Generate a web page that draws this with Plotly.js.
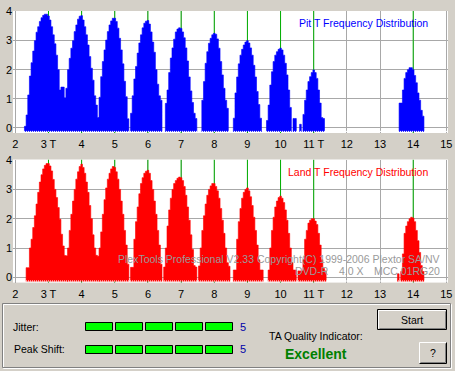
<!DOCTYPE html>
<html><head><meta charset="utf-8">
<script src="https://cdn.plot.ly/plotly-3.0.1.min.js"></script>
<style>html,body{margin:0;padding:0;background:#d4d0c8;overflow:hidden}#chart{width:455px;height:371px}</style>
</head><body><div id="chart"></div>
<script>
// ---- data ----
const tLengths = [3, 4, 5, 6, 7, 8, 9, 10, 11, 14];
const binWidth = 0.05;            // bin width in T
// first bin offset (in bins) of each peak, relative to its T centre
const pitStart  = [-14, -10, -9, -10, -9, -7, -8, -8, -8, -8];
const pit3  = [0.05,0.44,1.13,1.78,2.24,2.64,3.0,3.29,3.48,3.66,3.79,3.87,3.91,3.91,3.85,3.71,3.48,3.2,2.89,2.5,2.0,1.3,1.4,1.4];
const pit4  = [1.03,1.36,2.0,2.39,2.74,3.0,3.31,3.54,3.74,3.84,3.86,3.71,3.48,3.2,2.85,2.45,2.05,1.64,1.1,0.78,0.35];
const pit5  = [1.05,1.76,2.28,2.68,3.02,3.31,3.54,3.68,3.77,3.77,3.66,3.43,3.08,2.68,2.2,1.6,1.07,0.31];
const pit6  = [0.5,1.1,1.68,2.11,2.57,2.92,3.2,3.44,3.6,3.67,3.69,3.57,3.3,2.95,2.6,2.0,1.5,1.1,0.95];
const pit7  = [0.84,1.3,1.9,2.4,2.75,3.05,3.3,3.4,3.44,3.42,3.3,3.1,2.75,2.3,1.75,1.27,0.87,0.5,0.32];
const pit8  = [0.95,1.59,2.22,2.62,2.91,3.08,3.2,3.25,3.22,3.06,2.74,2.28,1.82,1.36,0.95,0.67];
const pit9  = [0.33,1.2,1.75,2.2,2.5,2.7,2.85,2.95,3.0,2.92,2.75,2.5,2.15,1.75,1.25,0.8,0.33];
const pit10 = [0.25,0.78,1.47,1.93,2.28,2.5,2.62,2.7,2.74,2.68,2.5,2.22,1.82,1.3,0.7,null,0.32,0.32];
const pit11 = [0.12,null,0.46,0.95,1.3,1.59,1.76,1.9,1.99,1.9,1.7,1.3,0.85,0.35,0.32];
const pit14 = [0.85,0.85,1.3,1.7,1.9,2.0,2.07,2.07,2.0,1.8,1.55,1.2,0.95,0.6,0.4];

const landStart = [-13, -8, -9, -10, -10, -9, -8, -7, -9, -9];
const land3  = [0.33,0.33,1.0,1.3,1.7,2.1,2.5,2.9,3.25,3.5,3.7,3.82,3.88,3.88,3.8,3.63,3.34,3.0,2.72,2.38,1.98,1.47,1.07,0.75,0.73];
const land4  = [1.0,1.6,2.15,2.6,3.0,3.35,3.6,3.78,3.86,3.75,3.55,3.25,2.9,2.45,2.0,1.45,1.0,0.75,0.72];
const land5  = [1.0,1.55,2.15,2.65,3.05,3.35,3.55,3.7,3.78,3.75,3.6,3.35,3.0,2.6,2.15,1.6,1.1,0.45];
const land6  = [0.34,0.34,1.3,1.9,2.4,2.85,3.2,3.4,3.55,3.62,3.65,3.55,3.3,3.0,2.6,2.15,1.6,1.1,0.45];
const land7  = [0.35,1.0,1.75,2.3,2.7,3.0,3.2,3.3,3.38,3.42,3.4,3.3,3.1,2.8,2.4,1.95,1.45,0.95,0.4,0.35];
const land8  = [0.39,1.0,1.6,2.1,2.5,2.8,3.0,3.12,3.2,3.2,3.1,2.95,2.7,2.35,1.95,1.5,1.0,0.5,0.38];
const land9  = [0.25,0.25,1.3,1.9,2.35,2.7,2.9,3.0,3.05,2.95,2.75,2.45,2.05,1.6,1.1,0.6,0.25,0.25];
const land10 = [0.25,1.0,1.6,2.05,2.4,2.6,2.72,2.77,2.7,2.55,2.3,1.95,1.5,1.0,0.5,0.25,0.25];
const land11 = [0.22,0.22,0.22,0.6,1.3,1.6,1.85,1.95,2.0,2.0,1.92,1.8,1.5,1.1,0.6,0.3,0.22];
const land14 = [0.12,null,0.2,0.8,1.5,1.75,1.9,2.0,2.05,2.02,1.9,1.6,1.25,0.85,0.4,0.2];

const xTickVals = [2,3,4,5,6,7,8,9,10,11,12,13,14,15];
const xTickText = ['2','3 T','4','5','6','7','8','9','10','11 T','12','13','14','15'];
const yTickVals = [0,1,2,3,4];
const jitterScore = 5;
const peakShiftScore = 5;
const scoreBoxes = 5;
const qualityText = 'Excellent';

// ---- build ----
const pitPeaks = [pit3,pit4,pit5,pit6,pit7,pit8,pit9,pit10,pit11,pit14];
const landPeaks = [land3,land4,land5,land6,land7,land8,land9,land10,land11,land14];
const BASE = -0.14;   // histogram columns are drawn from just below zero
// staircase outline of each run of bins, closed down to the baseline
function outline(peaks, starts){
  const xs=[], ys=[];
  peaks.forEach((arr,i)=>{
    let open=false, lastR=0;
    arr.forEach((v,j)=>{
      const c = tLengths[i] + (starts[i]+j)*binWidth, l = c-binWidth/2, r = c+binWidth/2;
      if(v===null){ if(open){ xs.push(lastR,null); ys.push(BASE,null); open=false; } return; }
      if(!open){ xs.push(l); ys.push(BASE); open=true; }
      xs.push(l, r); ys.push(v, v); lastR = r;
    });
    if(open){ xs.push(lastR,null); ys.push(BASE,null); }
  });
  return {xs, ys};
}
const P = outline(pitPeaks, pitStart), L = outline(landPeaks, landStart);
const FONT = 'Liberation Sans, Arial, sans-serif';
const GRID = '#a8a8a8', GREEN = '#00b000', FACE = '#d4d0c8';
const W = 455, H = 371;
const X = px => px / W, Y = py => 1 - py / H;

const traces = [
  {type:'scatter', mode:'lines', x:P.xs, y:P.ys, xaxis:'x', yaxis:'y', fill:'toself', fillcolor:'#0000ff',
   line:{color:'#0000ff', width:0.6}, connectgaps:false, hoverinfo:'skip'},
  {type:'scatter', mode:'lines', x:L.xs, y:L.ys, xaxis:'x2', yaxis:'y2', fill:'toself', fillcolor:'#ff0000',
   line:{color:'#ff0000', width:0.6}, connectgaps:false, hoverinfo:'skip'}
];

const shapes = [];
tLengths.forEach(t => {
  [['x','y'],['x2','y2']].forEach(([xr,yr]) => shapes.push({type:'line', xref:xr, yref:yr, x0:t, x1:t, y0:-0.18, y1:4.02,
    line:{color:GREEN, width:1}, layer:'between'}));
});
// dotted bottom edge of the columns
[['x','y'],['x2','y2']].forEach(([xr,yr]) => shapes.push({type:'line', xref:xr, yref:yr, x0:1.9, x1:15.1, y0:-0.125, y1:-0.125,
  line:{color:'#ffffff', width:1, dash:'1px,1px'}}));

function pline(x0,y0,x1,y1,color){ shapes.push({type:'line', xref:'paper', yref:'paper', x0:X(x0), y0:Y(y0), x1:X(x1), y1:Y(y1), line:{color, width:1}}); }
function prect(x0,y0,x1,y1,fill,lineColor){ shapes.push({type:'rect', xref:'paper', yref:'paper', x0:X(x0), y0:Y(y0), x1:X(x1), y1:Y(y1), fillcolor:fill, line:{color:lineColor||fill, width:lineColor?1:0}}); }

// etched frame of the lower panel
prect(3.5,304.5,451.5,368.5,'rgba(0,0,0,0)','#ffffff');
prect(2.5,303.5,450.5,367.5,'rgba(0,0,0,0)','#808080');
// score boxes
for(let i=0;i<scoreBoxes;i++){
  const x0 = 85.5 + 30*i, x1 = x0 + 27;
  prect(x0,322.5,x1,330.5, i<jitterScore ? '#00ff00' : FACE, '#000000');
  prect(x0,345.5,x1,353.5, i<peakShiftScore ? '#00ff00' : FACE, '#000000');
}
// Start button (default, black outer frame)
prect(377.5,309.5,446.5,329.5,FACE,'#000000');
pline(378.5,328.5,378.5,310.5,'#ffffff'); pline(378.5,310.5,445.5,310.5,'#ffffff');
pline(379.5,328.5,445.5,328.5,'#808080'); pline(445.5,328.5,445.5,311.5,'#808080');
// ? button
prect(419,342,447,364,FACE);
pline(419.5,363.5,419.5,342.5,'#ffffff'); pline(419.5,342.5,446.5,342.5,'#ffffff');
pline(419.5,363.5,446.5,363.5,'#000000'); pline(446.5,363.5,446.5,342.5,'#000000');
pline(420.5,362.5,445.5,362.5,'#808080'); pline(445.5,362.5,445.5,343.5,'#808080');

function ann(text, px, py, opts){
  return Object.assign({text, xref:'paper', yref:'paper', x:X(px), y:Y(py), showarrow:false,
    xanchor:'left', yanchor:'middle', font:{family:FONT, size:10.5, color:'#000000'}}, opts||{});
}
const annotations = [
  ann('Pit T Frequency Distribution', 430, 23, {xanchor:'right', font:{family:FONT,size:10.5,color:'#0000ff'}}),
  ann('Land T Frequency Distribution', 430, 172, {xanchor:'right', font:{family:FONT,size:10.5,color:'#ff0000'}}),
  ann('PlexTools Professional V2.33 Copyright(C) 1999-2006 Plextor SA/NV', 442, 259, {xanchor:'right', font:{family:FONT,size:10.5,color:'#9a9a9a'}}),
  ann('DVD-R', 293, 271, {font:{family:FONT,size:10.5,color:'#9a9a9a'}}),
  ann('4.0 X', 337, 271, {font:{family:FONT,size:10.5,color:'#9a9a9a'}}),
  ann('MCC 01RG20', 372, 271, {font:{family:FONT,size:10.5,color:'#9a9a9a'}}),
  ann('Jitter:', 11, 327),
  ann('Peak Shift:', 12, 349),
  ann(String(jitterScore), 243, 327, {xanchor:'center', font:{family:FONT,size:11,color:'#0000a8'}}),
  ann(String(peakShiftScore), 243, 349, {xanchor:'center', font:{family:FONT,size:11,color:'#0000a8'}}),
  ann('TA Quality Indicator:', 267, 336),
  ann('<b>'+qualityText+'</b>', 283, 354, {font:{family:FONT,size:14,color:'#008000'}}),
  ann('Start', 412, 319.5, {xanchor:'center'}),
  ann('?', 433, 353, {xanchor:'center'})
];

const xax = {range:[1.93,15.05], domain:[X(13),X(448)], tickmode:'array', tickvals:xTickVals, ticktext:xTickText,
  showgrid:true, gridcolor:GRID, gridwidth:1, zeroline:false, ticks:'', showline:false, fixedrange:true,
  ticklabelstandoff:3, tickfont:{family:FONT, size:11, color:'#000000'}};
const yax = {range:[-0.18,4.02], tickmode:'array', tickvals:yTickVals, showgrid:true, gridcolor:GRID, gridwidth:1,
  zeroline:false, ticks:'', showline:false, fixedrange:true, tickfont:{family:FONT, size:11, color:'#000000'}};

const layout = {
  width:W, height:H, margin:{l:0,r:0,t:0,b:0}, paper_bgcolor:FACE, plot_bgcolor:'#ffffff',
  showlegend:false, font:{family:FONT, size:11, color:'#000000'},
  xaxis:Object.assign({}, xax, {anchor:'y'}),
  yaxis:Object.assign({}, yax, {anchor:'x', domain:[Y(133), Y(11)]}),
  xaxis2:Object.assign({}, xax, {anchor:'y2'}),
  yaxis2:Object.assign({}, yax, {anchor:'x2', domain:[Y(282.6), Y(159.5)]}),
  shapes, annotations
};
Plotly.newPlot('chart', traces, layout, {staticPlot:true, displayModeBar:false});
</script></body></html>
